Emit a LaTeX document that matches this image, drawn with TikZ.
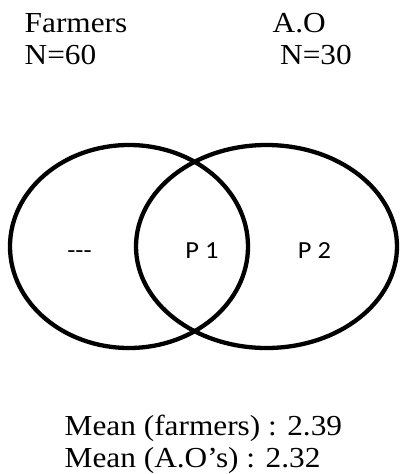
\documentclass[tikz,border=0pt]{standalone}
\usepackage{fontspec}
\usepackage{graphicx}
\setmainfont{Liberation Serif}
\newfontfamily\calib{Carlito}
\tikzset{
  toptext/.style={inner sep=0pt, anchor=base west, font=\fontsize{29}{29}\selectfont},
  venntext/.style={inner sep=0pt, anchor=base, font=\calib\fontsize{24.5}{24.5}\selectfont},
  vennline/.style={line width=4.3pt, black}
}
\newcommand{\wx}[1]{\scalebox{1.08}[1]{#1}}
\begin{document}
\begin{tikzpicture}[x=1pt,y=-1pt]
\useasboundingbox (0,0) rectangle (402,474);
% headers
\node[toptext] (farm) at (24.5,32.5) {\wx{Farmers}};
\node[toptext] (n60) at (24.5,64.5) {\wx{N=60}};
\node[toptext] (ao) at (272.5,32.5) {\wx{A.O}};
\node[toptext] (n30) at (280,64.5) {\wx{N=30}};
% venn
\coordinate (cl) at (129,246.5);
\coordinate (cr) at (266.5,246.5);
\draw[vennline] (cl) ellipse [x radius=119pt, y radius=101.5pt];
\draw[vennline] (cr) ellipse [x radius=130.5pt, y radius=101.5pt];
\node[venntext] (dash) at (79.5,258) {\wx{-{}-{}-}};
\node[venntext] (p1) at (202,258) {\wx{P 1}};
\node[venntext] (p2) at (314.5,258) {\wx{P 2}};
% means
\node[toptext] (m1) at (64.5,435) {\wx{Mean (farmers) : 2.39}};
\node[toptext] (m2) at (64.5,467.5) {\wx{Mean (A.O’s) : 2.32}};
\end{tikzpicture}
\end{document}
